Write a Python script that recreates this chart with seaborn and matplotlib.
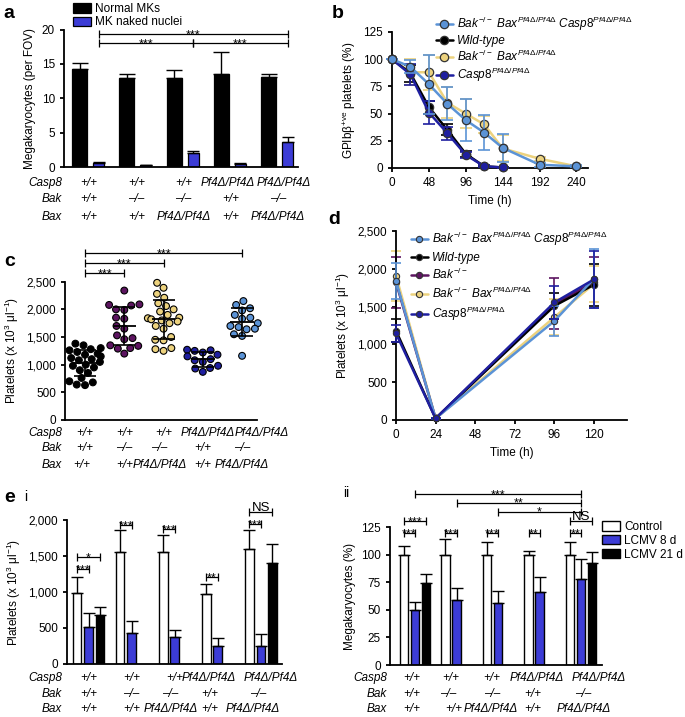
import numpy as np
import pandas as pd
import seaborn as sns
import matplotlib.pyplot as plt
from matplotlib.ticker import StrMethodFormatter
from matplotlib.transforms import blended_transform_factory

# ---- data ----
row_names = ["Casp8", "Bak", "Bax"]
casp8_geno = ["+/+", "+/+", "+/+", "Pf4Δ/Pf4Δ", "Pf4Δ/Pf4Δ"]
bak_geno = ["+/+", "–/–", "–/–", "+/+", "–/–"]
bax_geno = ["+/+", "+/+", "Pf4Δ/Pf4Δ", "+/+", "Pf4Δ/Pf4Δ"]

# a: megakaryocytes per FOV
mk_normal = [14.2, 13.0, 12.9, 13.6, 13.1]
mk_normal_err = [1.0, 0.6, 1.2, 3.2, 0.5]
mk_naked = [0.55, 0.25, 2.1, 0.5, 3.7]
mk_naked_err = [0.15, 0.1, 0.3, 0.1, 0.6]

# b: GPIb+ve platelets (%)
time_b = [0, 24, 48, 72, 96, 120, 144, 192, 240]
gp_tko = [100, 93, 77, 59, 44, 32.5, 18.5, 3, 1.5]
gp_tko_err = [0, 6, 27, 15, 19, 16, 13, 2, 1]
gp_dko = [100, 88, 88, 60, 50, 40, 18, 8.5, 1.5]
gp_dko_err = [0, 12, 16, 14, 13, 8, 12, 2, 1]
time_b_short = [0, 24, 48, 72, 96, 120, 144]
gp_wt = [100, 87, 56, 35, 13, 1.5, 0.5]
gp_wt_err = [0, 8, 6, 5, 3, 1, 0.5]
gp_casp8 = [100, 86, 51, 32, 12, 1.5, 0.5]
gp_casp8_err = [0, 10, 11, 6, 3, 1, 0.5]

# c: platelet counts per mouse
c_wt = [1380, 1350, 1300, 1280, 1260, 1230, 1200, 1180, 1150, 1120, 1100, 1080,
        1050, 1000, 980, 950, 900, 850, 760, 700, 680, 640, 630]
c_bak = [2340, 2090, 2080, 2070, 2000, 1990, 1850, 1830, 1700, 1650, 1530, 1480,
         1460, 1350, 1340, 1300, 1290, 1200]
c_dko = [2480, 2390, 2280, 2210, 2110, 2060, 2000, 1960, 1900, 1850, 1840, 1820,
         1800, 1780, 1750, 1700, 1650, 1500, 1450, 1440, 1300, 1280, 1250]
c_casp8 = [1270, 1260, 1250, 1220, 1180, 1150, 1100, 1080, 1050, 980, 940, 930, 870]
c_tko = [2150, 2080, 2020, 1980, 1900, 1850, 1830, 1750, 1700, 1680, 1650, 1640,
         1550, 1520, 1160]

# d: platelet recovery
time_d = [0, 24, 96, 120]
d_tko = [1840, 20, 1310, 1870]
d_tko_err = [240, 10, 200, 390]
d_wt = [1180, 20, 1510, 1790]
d_wt_err = [150, 10, 170, 280]
d_bak = [1820, 20, 1540, 1820]
d_bak_err = [340, 10, 340, 340]
d_dko = [1910, 20, 1360, 1800]
d_dko_err = [330, 10, 240, 240]
d_casp8 = [1145, 20, 1555, 1860]
d_casp8_err = [110, 10, 220, 380]

# e: LCMV infection
conditions = ["Control", "LCMV 8 d", "LCMV 21 d"]
e_plt_ctrl = [990, 1560, 1560, 975, 1595]
e_plt_ctrl_err = [224, 308, 233, 133, 266]
e_plt_8d = [514, 428, 371, 252, 252]
e_plt_8d_err = [190, 167, 105, 115, 162]
e_plt_21d = [681, np.nan, np.nan, np.nan, 1396]
e_plt_21d_err = [104, 0, 0, 0, 271]
e_mk_ctrl = [100, 100, 100, 100, 100]
e_mk_ctrl_err = [8, 14, 11, 3, 11.5]
e_mk_8d = [49.7, 58.7, 56.6, 66.3, 78]
e_mk_8d_err = [7.5, 11, 10, 13.5, 18]
e_mk_21d = [74.7, np.nan, np.nan, np.nan, 92.5]
e_mk_21d_err = [7.5, 0, 0, 0, 10]

# ---- style ----
sns.set_style("ticks")
plt.rcParams['font.family'] = ['Liberation Sans', 'DejaVu Sans']
plt.rcParams.update({
    'mathtext.fontset': 'custom',
    'mathtext.rm': 'Liberation Sans',
    'mathtext.it': 'Liberation Sans:italic',
    'mathtext.bf': 'Liberation Sans:bold',
    'font.size': 8.5,
    'axes.labelsize': 8.5,
    'xtick.labelsize': 8.5,
    'ytick.labelsize': 8.5,
    'axes.linewidth': 1.3,
    'xtick.major.width': 1.3,
    'ytick.major.width': 1.3,
    'xtick.major.size': 3,
    'ytick.major.size': 3,
    'axes.edgecolor': 'black',
    'text.color': 'black',
    'axes.labelcolor': 'black',
    'xtick.color': 'black',
    'ytick.color': 'black',
})

LBLUE = "#5b93d6"
NAVY = "#1f1fa0"
PURPLE = "#5c1460"
YELLOW = "#ecd27e"
BAR_BLUE = "#2222f0"
EDGE = "#333333"

W, H = 685, 717
fig = plt.figure(figsize=(W / 100, H / 100), dpi=100)


def px_axes(x0, y0, x1, y1):
    return fig.add_axes([x0 / W, 1 - y1 / H, (x1 - x0) / W, (y1 - y0) / H])


def bracket(ax, x1, x2, y, label):
    ax.plot([x1, x2], [y, y], color='black', lw=0.9, marker='|', markersize=6,
            markeredgewidth=0.9, clip_on=False, zorder=6)
    if label == 'NS':
        dy, fs = 0.8, 9.5
    else:
        dy, fs = -3.0, 9
    ax.annotate(label, ((x1 + x2) / 2, y), xytext=(0, dy), textcoords='offset points',
                ha='center', va='baseline', fontsize=fs, annotation_clip=False)


def geno_table(ax, ys_px, name_x_px, offsets=None):
    tr = blended_transform_factory(ax.transData, fig.transFigure)
    rows = [casp8_geno, bak_geno, bax_geno]
    for r, (name, vals, ypx) in enumerate(zip(row_names, rows, ys_px)):
        fig.text(name_x_px / W, 1 - ypx / H, name, ha='right', va='center', style='italic')
        offs = offsets[r] if offsets is not None else [0] * 5
        for i, v in enumerate(vals):
            ax.text(i + offs[i], 1 - ypx / H, v, transform=tr, ha='center', va='center',
                    style='italic')


def plain_x(ax):
    ax.set_xticks([])
    ax.set_xlabel('')
    sns.despine(ax=ax)


def panel_letter(x_px, y_px, s, bold=True):
    fig.text(x_px / W, 1 - y_px / H, s, ha='left', va='center', fontsize=14 if bold else 10,
             fontweight='bold' if bold else 'normal')


# ================= a =================
ax_a = px_axes(64, 29.5, 298, 167)
df_a = pd.DataFrame({
    'group': list(range(5)) * 2,
    'cell': ['Normal MKs'] * 5 + ['MK naked nuclei'] * 5,
    'value': mk_normal + mk_naked,
})
sns.barplot(data=df_a, x='group', y='value', hue='cell', palette=['black', BAR_BLUE],
            errorbar=None, edgecolor='black', linewidth=0.9, gap=0.2, ax=ax_a)
for p in ax_a.containers[1]:
    c = p.get_x() + p.get_width() / 2
    p.set_width(p.get_width() * 0.73)
    p.set_x(c - p.get_width() / 2)
for cont, errs, cap in zip(ax_a.containers, [mk_normal_err, mk_naked_err], [5.5, 4]):
    xs = [p.get_x() + p.get_width() / 2 for p in cont]
    hs = [p.get_height() for p in cont]
    ax_a.errorbar(xs, hs, yerr=[np.zeros(len(errs)), errs], fmt='none', ecolor='black',
                  elinewidth=1, capsize=cap, capthick=1, zorder=1)
handles, labels = ax_a.get_legend_handles_labels()
ax_a.legend(handles, labels, loc='upper left', bbox_to_anchor=(73 / W, 1 - 3 / H),
            bbox_transform=fig.transFigure, frameon=False, handlelength=1.5,
            handleheight=0.85, handletextpad=0.4, labelspacing=0.12, borderpad=0,
            borderaxespad=0, fontsize=8.5)
ax_a.set_ylim(0, 20)
ax_a.set_yticks([0, 5, 10, 15, 20])
ax_a.set_xlim(-0.53, 4.42)
ax_a.set_ylabel('Megakaryocytes (per FOV)')
plain_x(ax_a)
for x1, x2, y, lab in [(0.2, 4.2, 19.3, '***'), (0.2, 2.2, 18.0, '***'), (2.2, 4.2, 18.0, '***')]:
    bracket(ax_a, x1, x2, y, lab)
geno_table(ax_a, [183, 199, 217], 62,
           offsets=[[0, 0, 0, -0.07, 0.12], [0] * 5, [0] * 5])

# ================= b =================
ax_b = px_axes(392, 32, 588, 168)
lab_tko = r'$Bak^{-/-}\ Bax^{Pf4\Delta/Pf4\Delta}\ Casp8^{Pf4\Delta/Pf4\Delta}$'
lab_wt = 'Wild-type'
lab_bak = r'$Bak^{-/-}$'
lab_dko = r'$Bak^{-/-}\ Bax^{Pf4\Delta/Pf4\Delta}$'
lab_casp8 = r'$Casp8^{Pf4\Delta/Pf4\Delta}$'
series_b = [
    (time_b, gp_dko, gp_dko_err, YELLOW, lab_dko, 2),
    (time_b_short, gp_wt, gp_wt_err, 'black', lab_wt, 3),
    (time_b_short, gp_casp8, gp_casp8_err, NAVY, lab_casp8, 4),
    (time_b, gp_tko, gp_tko_err, LBLUE, lab_tko, 5),
]
for t, v, e, col, lab, z in series_b:
    ax_b.errorbar(t, v, yerr=e, fmt='none', ecolor=col, elinewidth=1.2, capsize=4.5,
                  capthick=1.2, zorder=z - 0.5, clip_on=False)
    sns.lineplot(x=t, y=v, color=col, marker='o', markersize=6, markeredgecolor=EDGE,
                 markeredgewidth=0.9, lw=1.8, ax=ax_b, label=lab, zorder=z, clip_on=False)
h, l = ax_b.get_legend_handles_labels()
hd = dict(zip(l, h))
order_b = [lab_tko, lab_wt, lab_dko, lab_casp8]
ax_b.legend([hd[k] for k in order_b], order_b, loc='upper left',
            bbox_to_anchor=(436 / W, 1 - 15 / H), bbox_transform=fig.transFigure,
            frameon=False, handlelength=1.4, handletextpad=0.35, labelspacing=0.15,
            borderpad=0, borderaxespad=0, prop={'style': 'italic', 'size': 8.5})
ax_b.set_xlim(0, 255)
ax_b.set_ylim(0, 125)
ax_b.set_xticks([0, 48, 96, 144, 192, 240])
ax_b.set_yticks([0, 25, 50, 75, 100, 125])
ax_b.set_xlabel('Time (h)')
ax_b.set_ylabel(r'GPIbβ$^{\mathrm{+ve}}$ platelets (%)')
sns.despine(ax=ax_b)

# ================= c =================
ax_c = px_axes(65, 281.7, 257, 420)
c_groups = ["wt", "bak", "dko", "casp8", "tko"]
c_sets = [c_wt, c_bak, c_dko, c_casp8, c_tko]
c_colors = ['black', PURPLE, YELLOW, NAVY, LBLUE]
df_c = pd.DataFrame({
    'group': np.concatenate([[g] * len(v) for g, v in zip(c_groups, c_sets)]),
    'value': np.concatenate(c_sets),
})
sns.swarmplot(data=df_c, x='group', y='value', hue='group', order=c_groups,
              palette=dict(zip(c_groups, c_colors)), size=4.9, edgecolor='black',
              linewidth=0.8, legend=False, ax=ax_c, clip_on=False)
for i, vals in enumerate(c_sets):
    m, s = np.mean(vals), np.std(vals, ddof=1)
    ax_c.hlines(m, i - 0.3, i + 0.3, color='black', lw=1.3, zorder=5)
    ax_c.errorbar(i, m, yerr=s, fmt='none', ecolor='black', elinewidth=1.2, capsize=8,
                  capthick=1.2, zorder=5)
ax_c.set_ylim(0, 2500)
ax_c.set_yticks([0, 500, 1000, 1500, 2000, 2500])
ax_c.yaxis.set_major_formatter(StrMethodFormatter('{x:,.0f}'))
ax_c.set_xlim(-0.51, 4.38)
ax_c.set_ylabel(r'Platelets (x 10$^{3}$ μl$^{-1}$)')
plain_x(ax_c)
for x1, x2, y, lab in [(0, 4, 3019, '***'), (0, 2, 2839, '***'), (0, 1, 2658, '***')]:
    bracket(ax_c, x1, x2, y, lab)
geno_table(ax_c, [432.5, 448, 465], 62,
           offsets=[[0, 0, 0, 0.13, 0.5], [0, 0, -0.1, 0, 0], [-0.08, 0, -0.1, 0, 0]])

# ================= d =================
ax_d = px_axes(396, 231, 627, 420)
series_d = [
    (d_dko, d_dko_err, YELLOW, lab_dko, 2),
    (d_bak, d_bak_err, PURPLE, lab_bak, 3),
    (d_wt, d_wt_err, 'black', lab_wt, 4),
    (d_tko, d_tko_err, LBLUE, lab_tko, 5),
    (d_casp8, d_casp8_err, NAVY, lab_casp8, 6),
]
for v, e, col, lab, z in series_d:
    ax_d.errorbar(time_d, v, yerr=e, fmt='none', ecolor=col, elinewidth=1.2, capsize=3.5,
                  capthick=1.2, zorder=z - 0.5, clip_on=False)
    sns.lineplot(x=time_d, y=v, color=col, marker='o', markersize=4.5, markeredgecolor=EDGE,
                 markeredgewidth=0.8, lw=1.8, ax=ax_d, label=lab, zorder=z, clip_on=False)
h, l = ax_d.get_legend_handles_labels()
hd = dict(zip(l, h))
order_d = [lab_tko, lab_wt, lab_bak, lab_dko, lab_casp8]
ax_d.legend([hd[k] for k in order_d], order_d, loc='upper left',
            bbox_to_anchor=(411 / W, 1 - 230 / H), bbox_transform=fig.transFigure,
            frameon=False, handlelength=1.4, handletextpad=0.35, labelspacing=0.3,
            borderpad=0, borderaxespad=0, prop={'style': 'italic', 'size': 8.5})
ax_d.set_xlim(0, 140)
ax_d.set_ylim(0, 2500)
ax_d.set_xticks([0, 24, 48, 72, 96, 120])
ax_d.set_yticks([0, 500, 1000, 1500, 2000, 2500])
ax_d.yaxis.set_major_formatter(StrMethodFormatter('{x:,.0f}'))
ax_d.set_xlabel('Time (h)')
ax_d.set_ylabel(r'Platelets (x 10$^{3}$ μl$^{-1}$)')
sns.despine(ax=ax_d)


# ================= e =================
def lcmv_bars(ax, ctrl, ctrl_err, d8, d8_err, d21, d21_err, legend):
    df = pd.DataFrame({
        'group': list(range(5)) * 3,
        'cond': np.repeat(conditions, 5),
        'value': ctrl + d8 + d21,
    })
    sns.barplot(data=df, x='group', y='value', hue='cond', hue_order=conditions,
                palette=['white', BAR_BLUE, 'black'], edgecolor='black', linewidth=1.0,
                errorbar=None, gap=0.25, ax=ax, legend=legend)
    for cont, vals, errs in zip(ax.containers, [ctrl, d8, d21], [ctrl_err, d8_err, d21_err]):
        errs = [e for v, e in zip(vals, errs) if not np.isnan(v)]
        bars = [p for p in cont if p.get_height() > 0]
        xs = [p.get_x() + p.get_width() / 2 for p in bars]
        hs = [p.get_height() for p in bars]
        ax.errorbar(xs, hs, yerr=[np.zeros(len(errs)), errs], fmt='none', ecolor='black',
                    elinewidth=1, capsize=4.5, capthick=1, zorder=1)


dodge = 0.8 / 3
ax_e1 = px_axes(67, 520, 282, 664)
lcmv_bars(ax_e1, e_plt_ctrl, e_plt_ctrl_err, e_plt_8d, e_plt_8d_err, e_plt_21d,
          e_plt_21d_err, False)
ax_e1.set_ylim(0, 2000)
ax_e1.set_yticks([0, 500, 1000, 1500, 2000])
ax_e1.yaxis.set_major_formatter(StrMethodFormatter('{x:,.0f}'))
ax_e1.set_xlim(-0.5, 4.49)
ax_e1.set_ylabel(r'Platelets (x 10$^{3}$ μl$^{-1}$)')
plain_x(ax_e1)
for x1, x2, y, lab in [(-dodge, dodge, 1486, '*'), (-dodge, 0, 1319, '***'),
                       (1 - dodge, 1, 1930, '***'), (2 - dodge, 2, 1875, '***'),
                       (3 - dodge, 3, 1208, '**'), (4 - dodge, 4 + dodge, 2111, 'NS'),
                       (4 - dodge, 4, 1944, '***')]:
    bracket(ax_e1, x1, x2, y, lab)
geno_table(ax_e1, [678, 694, 709], 62,
           offsets=[[0, 0, 0, -0.2, 0.23], [0, 0, -0.1, -0.19, -0.07], [0, 0, -0.1, -0.19, -0.2]])

ax_e2 = px_axes(390, 527, 602, 665)
lcmv_bars(ax_e2, e_mk_ctrl, e_mk_ctrl_err, e_mk_8d, e_mk_8d_err, e_mk_21d,
          e_mk_21d_err, True)
handles, labels = ax_e2.get_legend_handles_labels()
ax_e2.legend(handles, labels, loc='upper left', bbox_to_anchor=(602 / W, 1 - 521 / H),
             bbox_transform=fig.transFigure, frameon=False, handlelength=1.5,
             handleheight=0.85, handletextpad=0.4, labelspacing=0.15, borderpad=0,
             borderaxespad=0, fontsize=8.5)
ax_e2.set_ylim(0, 125)
ax_e2.set_yticks([0, 25, 50, 75, 100, 125])
ax_e2.set_xlim(-0.6, 4.5)
ax_e2.set_ylabel('Megakaryocytes (%)')
plain_x(ax_e2)
for x1, x2, y, lab in [(0, 4, 155, '***'), (1, 4, 147, '**'), (2, 4, 139, '*'),
                       (-dodge, dodge, 130.5, '***'), (-dodge, 0, 119.5, '***'),
                       (1 - dodge, 1, 119.5, '***'), (2 - dodge, 2, 119.5, '***'),
                       (3 - dodge, 3, 119.5, '**'), (4 - dodge, 4 + dodge, 130.5, 'NS'),
                       (4 - dodge, 4, 119.5, '**')]:
    bracket(ax_e2, x1, x2, y, lab)
geno_table(ax_e2, [678, 694, 709], 387,
           offsets=[[-0.07, -0.15, -0.15, -0.07, 0.43], [-0.07, -0.2, -0.15, -0.17, 0.05],
                    [-0.07, -0.07, -0.17, -0.17, 0.07]])

# panel letters
panel_letter(3, 13, 'a')
panel_letter(332, 13, 'b')
panel_letter(4, 261, 'c')
panel_letter(328, 220, 'd')
panel_letter(4, 497, 'e')
panel_letter(24, 497, 'i', bold=False)
panel_letter(343, 493, 'ii', bold=False)

fig.savefig('out.png', dpi=100)
